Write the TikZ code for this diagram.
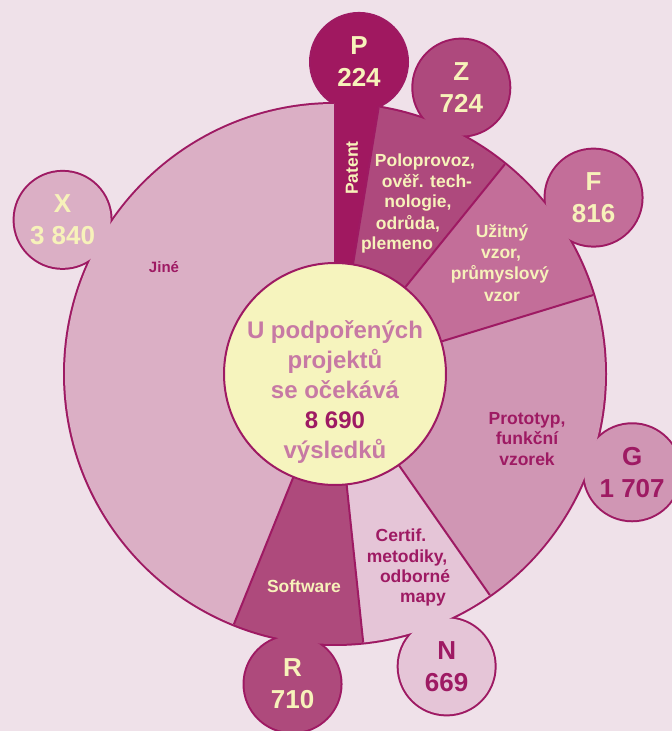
\documentclass[tikz,border=0pt]{standalone}
\usepackage{fontspec}
\setmainfont{Liberation Sans}
\usetikzlibrary{calc}
\definecolor{bg}{HTML}{EFE1E9}
\definecolor{edge}{HTML}{9E1A63}
\definecolor{cP}{HTML}{A01860}
\definecolor{cZ}{HTML}{AE497D}
\definecolor{cF}{HTML}{C36E99}
\definecolor{cG}{HTML}{D096B4}
\definecolor{cN}{HTML}{E5C5D7}
\definecolor{cR}{HTML}{AE4A7C}
\definecolor{cX}{HTML}{DBAFC5}
\definecolor{core}{HTML}{F6F4BE}
\definecolor{cream}{HTML}{F7F2BA}
\definecolor{dk}{HTML}{9E1A63}
\definecolor{pinktxt}{HTML}{C779A4}
\begin{document}
\begin{tikzpicture}[x=1pt,y=1pt,
  lbl/.style={font=\bfseries\fontsize{17.5}{21}\selectfont, anchor=base, inner sep=0pt},
  bub/.style={font=\bfseries\fontsize{26}{32}\selectfont, align=center, inner sep=0pt},
  bstroke/.style={draw=edge, line width=4pt},
  sep/.style={draw=edge, line width=2pt},
]
\useasboundingbox (0,0) rectangle (672,731);
\clip (0,0) rectangle (672,731);
\fill[bg] (0,0) rectangle (672,731);
\coordinate (C) at (335,357);
\coordinate (bP) at ($(C)+(85.6:313pt)$);
\coordinate (bZ) at ($(C)+(66.2:313pt)$);
\coordinate (bF) at ($(C)+(34.3:313pt)$);
\coordinate (bG) at ($(C)+(-18.3:313pt)$);
\coordinate (bN) at ($(C)+(-69.1:313pt)$);
\coordinate (bR) at ($(C)+(-97.8:313pt)$);
\coordinate (bX) at ($(C)+(150.5:313pt)$);
% outline strokes (outer half remains after fills)
\draw[bstroke] (C) circle[radius=270pt];
\foreach \n in {P,Z,F,G,N,R,X} \draw[bstroke] (b\n) circle[radius=48pt];
% sector fills
\fill[cP] (C) -- ++(90:270pt) arc[start angle=90, end angle=80.7, radius=270pt] -- cycle;
\fill[cZ] (C) -- ++(80.7:270pt) arc[start angle=80.7, end angle=51, radius=270pt] -- cycle;
\fill[cF] (C) -- ++(51:270pt) arc[start angle=51, end angle=17, radius=270pt] -- cycle;
\fill[cG] (C) -- ++(17:270pt) arc[start angle=17, end angle=-55, radius=270pt] -- cycle;
\fill[cN] (C) -- ++(-55:270pt) arc[start angle=-55, end angle=-84, radius=270pt] -- cycle;
\fill[cR] (C) -- ++(-84:270pt) arc[start angle=-84, end angle=-112, radius=270pt] -- cycle;
\fill[cX] (C) -- ++(90:270pt) arc[start angle=90, end angle=248, radius=270pt] -- cycle;
% bubble fills
\foreach \n in {P,Z,F,G,N,R,X} \fill[c\n] (b\n) circle[radius=48pt];
% sector boundaries
\foreach \a in {90,80.7,51,17,-55,-84,-112}
  \draw[sep] ($(C)+(\a:111pt)$) -- ($(C)+(\a:270pt)$);
% core circle
\draw[sep, fill=core] (C) circle[radius=111pt];
% bubble texts
\node[bub, text=cream] (tP) at (bP) {P\\224};
\node[bub, text=cream] (tZ) at (bZ) {Z\\724};
\node[bub, text=cream] (tF) at (bF) {F\\816};
\node[bub, text=dk] (tG) at (bG) {G\\1 707};
\node[bub, text=dk] (tN) at (bN) {N\\669};
\node[bub, text=cream] (tR) at (bR) {R\\710};
\node[bub, text=cream] (tX) at (bX) {X\\3 840};
% sector labels
\node[lbl, anchor=center, rotate=90, text=cream] (patent) at (352,563) {Patent};
\node[lbl, text=cream] (z1) at (425,564) {Poloprovoz,};
\node[lbl, text=cream] (z2) at (427,543) {ověř. tech-};
\node[lbl, text=cream] (z3) at (418,523) {nologie,};
\node[lbl, text=cream] (z4) at (408,501) {odrůda,};
\node[lbl, text=cream] (z5) at (397,481) {plemeno};
\node[lbl, text=cream] (f1) at (502,493) {Užitný};
\node[lbl, text=cream] (f2) at (501,472) {vzor,};
\node[lbl, text=cream] (f3) at (500,451) {průmyslový};
\node[lbl, text=cream] (f4) at (502,429) {vzor};
\node[lbl, text=dk] (g1) at (527,306) {Prototyp,};
\node[lbl, text=dk] (g2) at (527,286) {funkční};
\node[lbl, text=dk] (g3) at (527,265) {vzorek};
\node[lbl, text=dk] (n1) at (401,189) {Certif.};
\node[lbl, text=dk] (n2) at (407,168) {metodiky,};
\node[lbl, text=dk] (n3) at (415,148) {odborné};
\node[lbl, text=dk] (n4) at (423,128) {mapy};
\node[lbl, text=cream] (r1) at (304,138) {Software};
\node[lbl, text=dk, font=\bfseries\fontsize{15}{18}\selectfont] (x1) at (164,458) {Jiné};
% centre text
\node[font=\bfseries\fontsize{24}{30}\selectfont, align=center, text=pinktxt, inner sep=0pt] (ctr) at (335,339)
  {U podpořených\\projektů\\se očekává\\{\color{dk}8 690}\\výsledků};
\end{tikzpicture}
\end{document}
